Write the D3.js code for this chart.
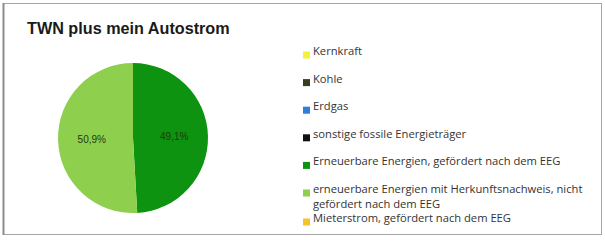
<!DOCTYPE html>
<html>
<head>
<meta charset="utf-8">
<script src="https://cdn.jsdelivr.net/npm/d3@7"></script>
<style>
  body { margin: 0; background: #fff; }
  svg { display: block; }
</style>
</head>
<body>
<div id="chart"></div>
<script>
const width = 605;
const height = 244;

const title = 'TWN plus mein Autostrom';

// Energieträger, Anteil in %, Farbe
const categories = [
  'Kernkraft',
  'Kohle',
  'Erdgas',
  'sonstige fossile Energieträger',
  'Erneuerbare Energien, gefördert nach dem EEG',
  'erneuerbare Energien mit Herkunftsnachweis, nicht gefördert nach dem EEG',
  'Mieterstrom, gefördert nach dem EEG'
];
const values = [0, 0, 0, 0, 49.1, 50.9, 0];
const colors = ['#f2f23a', '#3b3b22', '#2f7fd8', '#111111', '#0d930f', '#8fcf4e', '#f5c22a'];

// legend text broken by hand like the original
const legendLines = [
  ['Kernkraft'],
  ['Kohle'],
  ['Erdgas'],
  ['sonstige fossile Energieträger'],
  ['Erneuerbare Energien, gefördert nach dem EEG'],
  ['erneuerbare Energien mit Herkunftsnachweis, nicht', 'gefördert nach dem EEG'],
  ['Mieterstrom, gefördert nach dem EEG']
];

const data = categories.map((c, i) => ({name: c, value: values[i], color: colors[i], lines: legendLines[i]}));

const svg = d3.select('#chart')
  .append('svg')
    .attr('width', width)
    .attr('height', height);

// frame
svg.append('rect')
  .attr('x', 3.5)
  .attr('y', 3.5)
  .attr('width', 598)
  .attr('height', 231)
  .attr('fill', '#fff')
  .attr('stroke', '#a6a6a6')
  .attr('stroke-width', 1);

svg.append('line')
  .attr('x1', 3.5).attr('x2', 3.5)
  .attr('y1', 3).attr('y2', 235)
  .attr('stroke', '#8c8c8c')
  .attr('stroke-width', 2);

svg.append('text')
  .attr('x', 27)
  .attr('y', 34)
  .attr('font-family', 'Liberation Sans, Arial, sans-serif')
  .attr('font-weight', 'bold')
  .attr('font-size', 16.2)
  .attr('fill', '#1a1a1a')
  .text(title);

// pie
const cx = 133, cy = 138, r = 75;

const pie = d3.pie()
  .sort(null)
  .value(d => d.value);

const arc = d3.arc()
  .innerRadius(0)
  .outerRadius(r);

const labelArc = d3.arc()
  .innerRadius(r * 0.55)
  .outerRadius(r * 0.55);

const g = svg.append('g')
  .attr('transform', `translate(${cx},${cy})`);

const arcs = pie(data).filter(d => d.data.value > 0);

g.selectAll('.slice')
  .data(arcs)
  .enter()
  .append('path')
    .attr('class', 'slice')
    .attr('d', arc)
    .attr('fill', d => d.data.color);

const fmt = v => v.toFixed(1).replace('.', ',') + '%';

g.selectAll('.slice-label')
  .data(arcs)
  .enter()
  .append('text')
    .attr('class', 'slice-label')
    .attr('transform', d => `translate(${labelArc.centroid(d)})`)
    .attr('dy', '0.35em')
    .attr('text-anchor', 'middle')
    .attr('font-family', 'Liberation Sans, Arial, sans-serif')
    .attr('font-size', 10)
    .attr('fill', '#1e3a10')
    .text(d => fmt(d.data.value));

// legend
const legendY = d3.scalePoint()
  .domain(d3.range(6))
  .range([55, 193]);

const rowY = i => i < 6 ? legendY(i) : 222;

const legend = svg.append('g')
  .selectAll('.legend-item')
  .data(data)
  .enter()
  .append('g')
    .attr('class', 'legend-item')
    .attr('transform', (d, i) => `translate(303,${rowY(i)})`);

legend.append('rect')
  .attr('x', 0)
  .attr('y', -3.5)
  .attr('width', 7)
  .attr('height', 7)
  .attr('fill', d => d.color);

legend.append('text')
  .attr('x', 10)
  .attr('dy', '0.35em')
  .attr('font-family', 'Open Sans, DejaVu Sans, sans-serif')
  .attr('font-size', 11.2)
  .attr('fill', '#333')
  .selectAll('tspan')
  .data(d => d.lines)
  .enter()
  .append('tspan')
    .attr('x', 10)
    .attr('dy', (d, i) => i === 0 ? 0 : 15)
    .text(d => d);
</script>
</body>
</html>
